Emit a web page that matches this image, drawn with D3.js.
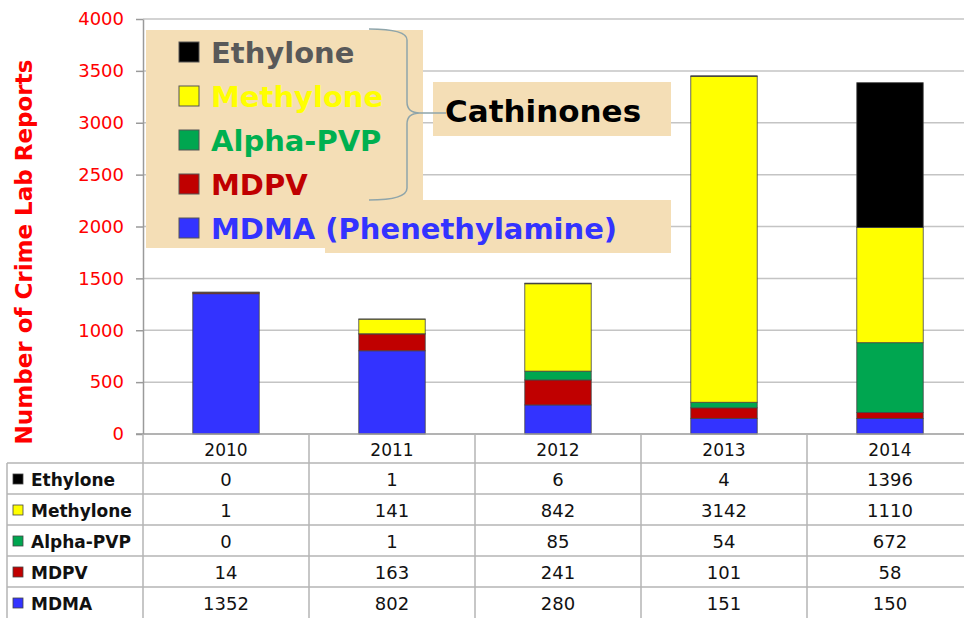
<!DOCTYPE html>
<html>
<head>
<meta charset="utf-8">
<script src="https://cdn.jsdelivr.net/npm/d3@7.9.0/dist/d3.min.js"></script>
<style>
  body { margin: 0; background: #fff; }
  svg { display: block; font-family: 'DejaVu Sans', sans-serif; }
</style>
</head>
<body>
<svg id="chart" width="964" height="618"></svg>
<script>
// data
const years = ['2010', '2011', '2012', '2013', '2014'];
const seriesNames = ['Ethylone', 'Methylone', 'Alpha-PVP', 'MDPV', 'MDMA'];
const seriesColors = ['#000000', '#FFFF00', '#00A650', '#C00000', '#3333FF'];
const ethylone = [0, 1, 6, 4, 1396];
const methylone = [1, 141, 842, 3142, 1110];
const alphaPVP = [0, 1, 85, 54, 672];
const mdpv = [14, 163, 241, 101, 58];
const mdma = [1352, 802, 280, 151, 150];
const yTicks = [0, 500, 1000, 1500, 2000, 2500, 3000, 3500, 4000];

const values = [ethylone, methylone, alphaPVP, mdpv, mdma];
const rows = years.map((yr, i) => {
  const r = { year: yr };
  seriesNames.forEach((s, j) => { r[s] = values[j][i]; });
  return r;
});

const svg = d3.select('#chart');
const W = 964;
const plotLeft = 143, plotTop = 19, plotBottom = 434;

const x = d3.scaleBand().domain(years).range([plotLeft, 973])
  .paddingInner(0.6).paddingOuter(0.3);
const y = d3.scaleLinear().domain([0, 4000]).range([plotBottom, plotTop]);

// gridlines
svg.append('g')
  .selectAll('line')
  .data(yTicks.slice(1))
  .join('line')
  .attr('x1', plotLeft).attr('x2', W)
  .attr('y1', d => y(d)).attr('y2', d => y(d))
  .attr('stroke', '#c4c4c4').attr('stroke-width', 1.5);

// stacked bars (bottom: MDMA ... top: Ethylone)
const stackKeys = seriesNames.slice().reverse();
const stack = d3.stack().keys(stackKeys)(rows);
const color = d3.scaleOrdinal().domain(seriesNames).range(seriesColors);

svg.append('g')
  .selectAll('g')
  .data(stack)
  .join('g')
  .attr('fill', d => color(d.key))
  .selectAll('rect')
  .data(d => d)
  .join('rect')
  .attr('x', d => x(d.data.year))
  .attr('width', x.bandwidth())
  .attr('y', d => y(d[1]))
  .attr('height', d => y(d[0]) - y(d[1]))
  .attr('stroke', '#444')
  .attr('stroke-width', 0.8);

// y axis
const yAxis = svg.append('g')
  .attr('transform', `translate(${plotLeft},0)`)
  .call(d3.axisLeft(y).tickValues(yTicks).tickFormat(d3.format('d'))
    .tickSize(7).tickPadding(12).tickSizeOuter(0));
yAxis.select('.domain').attr('stroke', '#9a9a9a').attr('stroke-width', 1.5);
yAxis.selectAll('.tick line').attr('stroke', '#9a9a9a').attr('stroke-width', 1.5);
yAxis.selectAll('.tick text')
  .attr('fill', '#FF0000')
  .style('font-size', '18px')
  .style('font-family', "'DejaVu Sans', sans-serif");

svg.append('text')
  .attr('transform', 'translate(32,252) rotate(-90)')
  .attr('text-anchor', 'middle')
  .attr('fill', '#FF0000')
  .style('font-size', '23px')
  .style('font-weight', 'bold')
  .text('Number of Crime Lab Reports');

// data table under the chart
const rowH = 31;
const headTop = plotBottom, tableTop = 463;
const tableLeft = 7;
const gridColor = '#b5b5b5';
const table = svg.append('g');

// baseline / header top
table.append('line')
  .attr('x1', plotLeft - 7).attr('x2', W)
  .attr('y1', headTop).attr('y2', headTop)
  .attr('stroke', '#9a9a9a').attr('stroke-width', 1.5);

// horizontal row lines
table.selectAll('line.row')
  .data(d3.range(seriesNames.length))
  .join('line')
  .attr('class', 'row')
  .attr('x1', tableLeft).attr('x2', W)
  .attr('y1', i => tableTop + i * rowH).attr('y2', i => tableTop + i * rowH)
  .attr('stroke', gridColor).attr('stroke-width', 1.5);

// vertical column lines
const colEdges = years.map(yr => x(yr) - x.step() * x.paddingInner() / 2);
table.selectAll('line.col')
  .data(colEdges)
  .join('line')
  .attr('class', 'col')
  .attr('x1', d => d).attr('x2', d => d)
  .attr('y1', headTop).attr('y2', 618)
  .attr('stroke', gridColor).attr('stroke-width', 1.5);
table.append('line')
  .attr('x1', tableLeft).attr('x2', tableLeft)
  .attr('y1', tableTop).attr('y2', 618)
  .attr('stroke', gridColor).attr('stroke-width', 1.5);

// year headers
table.selectAll('text.year')
  .data(years)
  .join('text')
  .attr('class', 'year')
  .attr('x', d => x(d) + x.bandwidth() / 2)
  .attr('y', headTop + 22)
  .attr('text-anchor', 'middle')
  .attr('fill', '#111')
  .style('font-size', '17px')
  .text(d => d);

// row labels and values
seriesNames.forEach((name, j) => {
  const ty = tableTop + j * rowH;
  table.append('rect')
    .attr('x', 13).attr('y', ty + 11)
    .attr('width', 10).attr('height', 10)
    .attr('fill', seriesColors[j])
    .attr('stroke', '#444').attr('stroke-width', 0.8);
  table.append('text')
    .attr('x', 31).attr('y', ty + 23)
    .attr('fill', '#111')
    .style('font-size', '17px')
    .style('font-weight', 'bold')
    .text(name);
  table.selectAll(null)
    .data(years)
    .join('text')
    .attr('x', d => x(d) + x.bandwidth() / 2)
    .attr('y', ty + 23)
    .attr('text-anchor', 'middle')
    .attr('fill', '#111')
    .style('font-size', '18px')
    .text((d, i) => values[j][i]);
});

// legend overlay
const beige = '#F4DEB6';
const lg = svg.append('g');
lg.append('rect').attr('x', 146).attr('y', 30).attr('width', 277).attr('height', 218).attr('fill', beige);
lg.append('rect').attr('x', 325).attr('y', 200).attr('width', 346).attr('height', 53).attr('fill', beige);
lg.append('rect').attr('x', 433).attr('y', 82).attr('width', 238).attr('height', 54).attr('fill', beige);

const legendText = ['#595959', '#FFFF00', '#00B050', '#C00000', '#3333FF'];
const legendLabels = ['Ethylone', 'Methylone', 'Alpha-PVP', 'MDPV', 'MDMA (Phenethylamine)'];
legendLabels.forEach((lab, j) => {
  const cy = 52 + j * 44;
  lg.append('rect')
    .attr('x', 179).attr('y', cy - 10)
    .attr('width', 20).attr('height', 20)
    .attr('fill', seriesColors[j])
    .attr('stroke', '#555').attr('stroke-width', 1);
  lg.append('text')
    .attr('x', 211).attr('y', cy + 11)
    .attr('fill', legendText[j])
    .style('font-size', '29px')
    .style('font-weight', 'bold')
    .text(lab);
});

// brace grouping the cathinones
lg.append('path')
  .attr('d', 'M369,29 Q407,29 407,40 L407,102 Q407,113 420,113 L446,113 M420,113 Q407,113 407,124 L407,188 Q407,200 369,200')
  .attr('fill', 'none')
  .attr('stroke', '#8FA5AA')
  .attr('stroke-width', 1.5);

lg.append('text')
  .attr('x', 445).attr('y', 122)
  .attr('fill', '#000')
  .style('font-size', '31px')
  .style('font-weight', 'bold')
  .text('Cathinones');
</script>
</body>
</html>
